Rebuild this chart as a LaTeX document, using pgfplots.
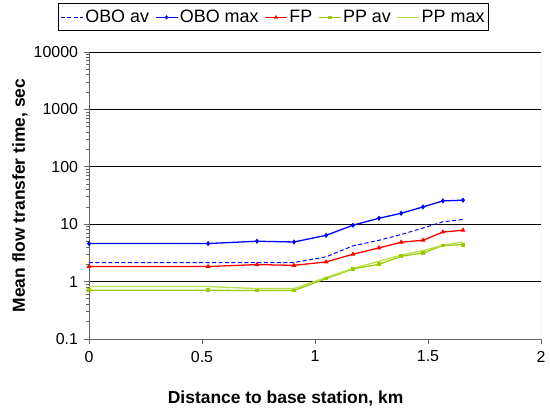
\documentclass[border=0pt]{standalone}
\usepackage{pgfplots}
\pgfplotsset{compat=1.18}
\usepackage{fontspec}
\setmainfont{Liberation Sans}
\definecolor{obo}{RGB}{0,0,255}
\definecolor{fp}{RGB}{255,0,0}
\definecolor{ppav}{RGB}{153,204,0}
\definecolor{ppmax}{RGB}{185,222,80}
\definecolor{axgray}{RGB}{100,100,100}
\begin{document}
\begin{tikzpicture}
\begin{axis}[
  at={(0,0)}, anchor=south west,
  scale only axis, width=452bp, height=287bp,
  xmin=0, xmax=2, ymin=0.1, ymax=10000, ymode=log,
  axis x line*=bottom, axis y line*=left,
  axis line style={axgray, line width=1pt},
  xtick={0,0.5,1,1.5,2}, xticklabels={0,0.5,1,1.5,2},
  ytick={0.1,1,10,100,1000,10000}, yticklabels={0.1,1,10,100,1000,10000},
  minor ytick={}, 
  tick align=outside, major tick length=5bp,
  tick style={axgray, line width=0.8pt},
  ymajorgrids, major grid style={black, line width=0.8pt},
  /pgf/number format/assume math mode=true,
  ticklabel style={font=\fontsize{16}{19}\selectfont},
  xticklabel style={yshift=-3bp},
  yticklabel style={xshift=-2bp},
  xlabel={Distance to base station, km},
  ylabel={Mean flow transfer time, sec},
  xlabel style={font=\bfseries\fontsize{17.5}{20}\selectfont, at={(axis description cs:0.435,-0.209)}, anchor=center},
  ylabel style={font=\bfseries\fontsize{17.5}{20}\selectfont, at={(axis description cs:-0.153,0.5)}, anchor=center},
  legend columns=5,
  legend style={at={(axis description cs:0.408,1.169)}, anchor=north, draw=black, line width=0.8pt,
    font=\fontsize{18}{21}\selectfont, inner xsep=2bp, inner ysep=4.5bp,
    /tikz/every even column/.append style={column sep=4bp}},
  legend image code/.code={\draw[mark repeat=2,mark phase=2] plot coordinates {(0bp,0bp) (11bp,0bp) (22bp,0bp)};},
  line width=1.3pt,
  every axis plot/.append style={mark size=1.6pt},
]
\addplot[obo, dash pattern=on 4pt off 2.5pt, line width=1pt, no marks] coordinates {
(0,2.15) (0.527,2.15) (0.743,2.15) (0.907,2.15) (1.049,2.7) (1.168,4.2) (1.283,5.25) (1.381,6.6) (1.478,8.6) (1.566,11) (1.655,12.1)};
\addlegendentry{OBO av}
\addplot[obo, mark=diamond*] coordinates {
(0,4.6) (0.527,4.6) (0.743,5.05) (0.907,4.9) (1.049,6.4) (1.168,9.6) (1.283,12.7) (1.381,15.5) (1.478,20) (1.566,25.5) (1.655,26.2)};
\addlegendentry{OBO max}
\addplot[fp, mark=triangle*] coordinates {
(0,1.83) (0.527,1.83) (0.743,1.98) (0.907,1.92) (1.049,2.2) (1.168,3.0) (1.283,3.86) (1.381,4.85) (1.478,5.25) (1.566,7.3) (1.655,7.85)};
\addlegendentry{FP}
\addplot[ppav, mark=square*, mark size=1.3pt] coordinates {
(0,0.705) (0.527,0.705) (0.743,0.7) (0.907,0.7) (1.049,1.13) (1.168,1.66) (1.283,2.0) (1.381,2.76) (1.478,3.16) (1.566,4.25) (1.655,4.4)};
\addlegendentry{PP av}
\addplot[ppmax, no marks] coordinates {
(0,0.82) (0.527,0.82) (0.743,0.755) (0.907,0.755) (1.049,1.18) (1.168,1.7) (1.283,2.26) (1.381,2.9) (1.478,3.47) (1.566,4.3) (1.655,4.9)};
\addlegendentry{PP max}
\draw[gray!55, line width=1pt] (rel axis cs:1,0) -- (rel axis cs:1,1);
\end{axis}
\pgfresetboundingbox
\path[use as bounding box] (-89bp,-71bp) rectangle (461bp,339bp);
\end{tikzpicture}
\end{document}
